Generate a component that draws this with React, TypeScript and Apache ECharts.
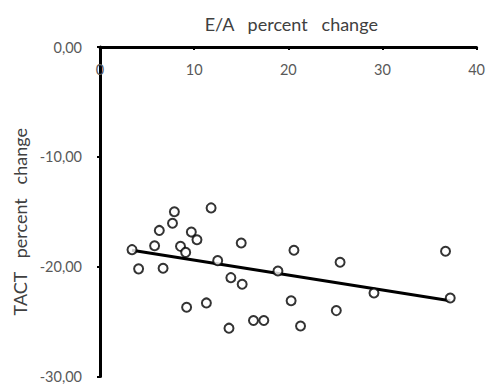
import React, { useEffect, useRef } from "react";
import * as echarts from "echarts";

const pointsX = [3.4, 4.1, 5.8, 6.3, 6.7, 7.7, 7.9, 8.55, 9.1, 9.2, 9.7, 10.3, 11.3, 11.8, 12.5, 13.9, 13.7, 15.0, 15.1, 16.3, 17.4, 18.9, 20.6, 20.3, 21.3, 25.5, 25.1, 29.1, 36.7, 37.2];
const pointsY = [-18.45, -20.2, -18.1, -16.7, -20.15, -16.05, -15.0, -18.15, -18.7, -23.7, -16.85, -17.55, -23.3, -14.65, -19.45, -21.0, -25.6, -17.85, -21.6, -24.9, -24.9, -20.4, -18.5, -23.1, -25.4, -19.6, -24.0, -22.4, -18.6, -22.85];
const trendX = [3.4, 37.2];
const trendY = [-18.5, -23.1];
const xTicks = [0, 10, 20, 30, 40];
const yTicks = [0, -10, -20, -30];

export default function App() {
  const ref = useRef<HTMLDivElement>(null);
  useEffect(() => {
    if (!ref.current) return;
    const chart = echarts.init(ref.current, undefined, { renderer: "svg" });
    const font = "Lato, 'Open Sans', sans-serif";
    chart.setOption({
      animation: false,
      backgroundColor: "#fff",
      grid: { left: 100, right: 11, top: 47, bottom: 7 },
      xAxis: {
        type: "value",
        position: "top",
        min: xTicks[0],
        max: xTicks[xTicks.length - 1],
        interval: 10,
        name: "E/A   percent   change",
        nameLocation: "middle",
        nameGap: 14,
        nameTextStyle: { color: "#404040", fontSize: 18, fontFamily: font, padding: [0, 0, 0, 6] },
        axisLine: { onZero: false, lineStyle: { color: "#000", width: 3 } },
        axisTick: { show: true, inside: true, length: 3, lineStyle: { color: "#000", width: 2 } },
        axisLabel: { inside: true, margin: 15, color: "#595959", fontSize: 14.5, fontFamily: font },
        splitLine: { show: false },
      },
      yAxis: {
        type: "value",
        min: yTicks[yTicks.length - 1],
        max: yTicks[0],
        interval: 10,
        name: "TACT   percent   change",
        nameLocation: "middle",
        nameGap: 70,
        nameTextStyle: { color: "#404040", fontSize: 18, fontFamily: font, padding: [0, 0, 0, -20] },
        axisLine: { onZero: false, lineStyle: { color: "#000", width: 3 } },
        axisTick: { show: true, length: 3, lineStyle: { color: "#000", width: 2 } },
        axisLabel: {
          margin: 18,
          color: "#595959",
          fontSize: 14.5,
          fontFamily: font,
          formatter: (v: number) => v.toFixed(2).replace(".", ","),
        },
        splitLine: { show: false },
      },
      series: [
        {
          type: "line",
          data: trendX.map((x, i) => [x, trendY[i]]),
          symbol: "none",
          lineStyle: { color: "#000", width: 3 },
          z: 2,
        },
        {
          type: "scatter",
          data: pointsX.map((x, i) => [x, pointsY[i]]),
          symbol: "circle",
          symbolSize: 9,
          itemStyle: { color: "#fff", borderColor: "#000", borderWidth: 2 },
          z: 3,
        },
      ],
    });
    return () => chart.dispose();
  }, []);
  return <div ref={ref} style={{ width: 488, height: 384, position: "absolute", left: 0, top: 0 }} />;
}
